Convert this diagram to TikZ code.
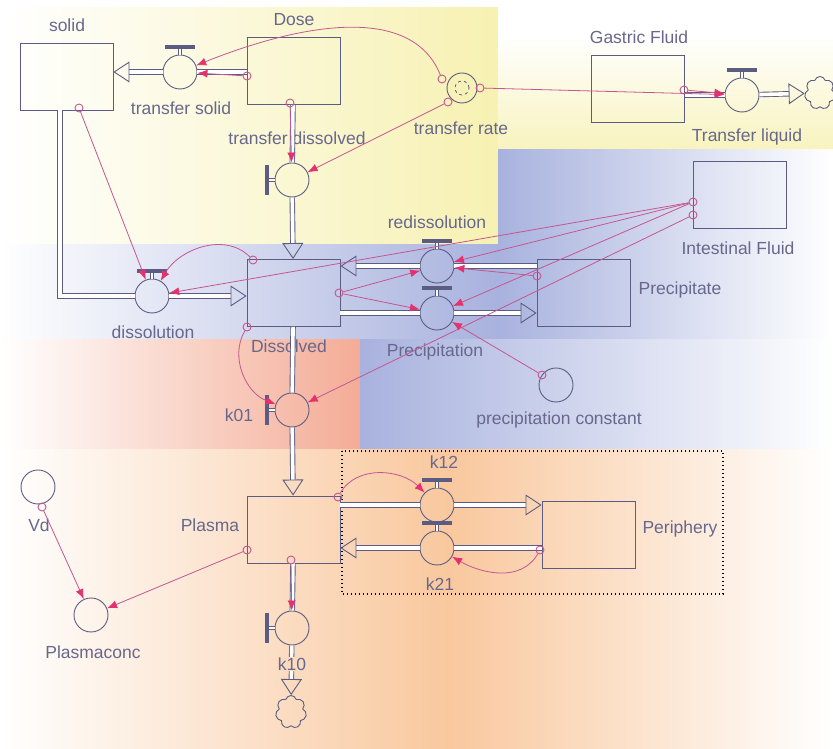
\documentclass[tikz,border=0pt]{standalone}
\usepackage{fontspec}
\setmainfont{Liberation Sans}
\usepackage{tikz}
\usetikzlibrary{arrows,arrows.meta,shapes.symbols}
\definecolor{boxcol}{RGB}{92,92,130}
\definecolor{linkcol}{RGB}{196,86,146}
\definecolor{tipcol}{RGB}{228,50,110}
\definecolor{txtcol}{RGB}{104,104,140}
\definecolor{ylw}{RGB}{247,241,178}
\definecolor{blu}{RGB}{168,178,222}
\definecolor{slm}{RGB}{244,172,150}
\definecolor{org}{RGB}{249,200,158}

\begin{document}
\begin{tikzpicture}[x=1pt,y=1pt]
\tikzset{stock/.style = {shape=rectangle,draw=boxcol,line width=0.9pt,minimum width=93pt,minimum height=67pt}}
\tikzset{valve/.style = {shape=circle,draw=boxcol,line width=0.9pt,minimum size=34pt,inner sep=0pt}}
\tikzset{conv/.style = {shape=circle,draw=boxcol,line width=0.9pt,minimum size=34pt,inner sep=0pt}}
\tikzset{dot/.style = {shape=circle,draw=linkcol,line width=0.9pt,minimum size=8pt,inner sep=0pt}}
\tikzset{lbl/.style = {text=txtcol,font=\fontsize{17.5}{20}\selectfont,inner sep=1pt}}
\tikzset{pipe/.style = {draw=boxcol,line width=0.9pt,double=white,double distance=3.6pt}}
\tikzset{flow/.style = {pipe,-{Triangle[open,width=21pt,length=16pt,line width=0.9pt]}}}
\tikzset{stem/.style = {draw=boxcol,line width=0.6pt,double=white,double distance=2pt}}
\tikzset{edge/.style = {->,> = {Latex[length=10pt,width=8pt,color=tipcol]},draw=linkcol,line width=0.8pt}}
\tikzset{cloudy/.style = {cloud,cloud puffs=7,draw=boxcol,line width=0.9pt,minimum width=31pt,minimum height=33pt,aspect=1}}
\tikzset{frame/.style = {draw=black,line width=1.4pt,dash pattern=on 1.4pt off 2.6pt}}
\useasboundingbox (0,0) rectangle (833,749);
% background
\shade[left color=white,right color=ylw] (0,504) rectangle (498,741);
\shade[top color=white,bottom color=ylw!85] (498,599) rectangle (833,714);
\shade[left color=blu,right color=white] (498,504) rectangle (833,599);
\shade[left color=white,right color=blu] (0,409) rectangle (498,504);
\shade[left color=blu,right color=white] (498,409) rectangle (833,504);
\shade[left color=white,right color=slm] (0,299) rectangle (360,409);
\shade[left color=blu,right color=white] (360,299) rectangle (833,409);
\shade[left color=white,right color=org] (0,0) rectangle (450,299);
\shade[left color=org,right color=white] (450,0) rectangle (833,299);
\draw[frame] (342,298) rectangle (723,155);
% labels
\node[lbl] (lsolid) at (67,724) {solid};
\node[lbl] (lDose) at (294,729) {Dose};
\node[lbl] (lGF) at (639,712) {Gastric Fluid};
\node[lbl] (lTS) at (181,641) {transfer solid};
\node[lbl] (lTD) at (297,611) {transfer dissolved};
\node[lbl] (ltr) at (461,621) {transfer rate};
\node[lbl] (lTL) at (747,612) {Transfer liquid};
\node[lbl] (lRediss) at (437,527) {redissolution};
\node[lbl] (lIF) at (738,501) {Intestinal Fluid};
\node[lbl] (lPrecip) at (680,459) {Precipitate};
\node[lbl] (lDiss) at (153,417) {dissolution};
\node[lbl] (lDissolved) at (289,403) {Dissolved};
\node[lbl] (lPrec) at (435,397) {Precipitation};
\node[lbl] (lpc) at (559,329) {precipitation constant};
\node[lbl] (lk01) at (239,334) {k01};
\node[lbl] (lk12) at (444,287) {k12};
\node[lbl] (lk21) at (440,165) {k21};
\node[lbl] (lVd) at (39,224) {Vd};
\node[lbl] (lPlasma) at (210,224) {Plasma};
\node[lbl] (lPconc) at (93,97) {Plasmaconc};
\node[lbl] (lPer) at (680,220) {Periphery};
% stocks
\node[stock] (solid) at (66.5,672.5) {};
\node[stock] (Dose) at (293.5,678) {};
\node[stock] (GF) at (638,660.5) {};
\node[stock] (IF) at (740,554) {};
\node[stock] (Precip) at (583.5,456) {};
\node[stock] (Dissolved) at (293.5,456) {};
\node[stock] (Plasma) at (293.5,219.5) {};
\node[stock] (Periphery) at (588.5,214.5) {};
% valves
\node[valve] (vTS) at (180,677) {};
\node[valve] (vTD) at (292,569) {};
\node[valve] (vTL) at (742,654) {};
\node[valve] (vDiss) at (152,453) {};
\node[valve] (vRediss) at (437,483) {};
\node[valve] (vPrec) at (437,436) {};
\node[valve] (vk01) at (292,339) {};
\node[valve] (vk12) at (437,244) {};
\node[valve] (vk21) at (437,201) {};
\node[valve] (vk10) at (292,121) {};
\foreach \v in {vTS,vTL,vDiss,vRediss,vPrec,vk12,vk21}
{
\draw[stem] (\v.north) -- ++(0,6);
\fill[boxcol] (\v.north) ++(-15,6) rectangle ++(30,3.5);
}
\foreach \v in {vTD,vk01,vk10}
{
\draw[stem] (\v.west) -- ++(-6,0);
\fill[boxcol] (\v.west) ++(-6,-15) rectangle ++(-3.5,30);
}
% converters and clouds
\node[conv,minimum size=30pt] (tr) at (462,661) {};
\draw[boxcol,dashed,line width=0.8pt] (tr.center) circle (7pt);
\node[conv] (pc) at (556,364) {};
\node[conv] (Vd) at (38,262) {};
\node[conv] (Pconc) at (91,134) {};
\node[cloudy] (cloud1) at (820,656) {};
\node[cloudy] (cloud2) at (291,37) {};
\coordinate (sbot) at (60,639);
% flows
\draw[pipe] (Dose.west |- vTS) -- (vTS);
\draw[flow] (vTS) -- (solid.east |- vTS);
\draw[pipe] (Dose) -- (vTD);
\draw[flow] (vTD) -- (Dissolved);
\draw[pipe] (GF.east |- vTL) -- (vTL);
\draw[flow] (vTL) -- (cloud1);
\draw[pipe] (sbot) |- (vDiss);
\draw[flow] (vDiss) -- (Dissolved.west |- vDiss);
\draw[pipe] (Precip.west |- vRediss) -- (vRediss);
\draw[flow] (vRediss) -- (Dissolved.east |- vRediss);
\draw[pipe] (Dissolved.east |- vPrec) -- (vPrec);
\draw[flow] (vPrec) -- (Precip.west |- vPrec);
\draw[pipe] (Dissolved) -- (vk01);
\draw[flow] (vk01) -- (Plasma);
\draw[pipe] (Plasma.east |- vk12) -- (vk12);
\draw[flow] (vk12) -- (Periphery.west |- vk12);
\draw[pipe] (Periphery.west |- vk21) -- (vk21);
\draw[flow] (vk21) -- (Plasma.east |- vk21);
\draw[pipe] (Plasma) -- (vk10);
\draw[flow] (vk10) -- (cloud2);
\node[lbl,fill=org!66] (lk10) at (292,85) {k10};
% connector origins
\node[dot] (oTrA) at (442,670) {};
\node[dot] (oTrB) at (448,647) {};
\node[dot] (oTrC) at (480,661) {};
\node[dot] (oGF) at (684,659) {};
\node[dot] (oDoseL) at (247,673) {};
\node[dot] (oDoseB) at (290,646) {};
\node[dot] (oSolid) at (79,641) {};
\node[dot] (oDissT) at (253,489) {};
\node[dot] (oDissR) at (339,456) {};
\node[dot] (oDissB) at (247,422) {};
\node[dot] (oIFa) at (693,547) {};
\node[dot] (oIFb) at (693,534) {};
\node[dot] (oPrecip) at (537,473) {};
\node[dot] (oPC) at (542,374) {};
\node[dot] (oPlT) at (338,252) {};
\node[dot] (oPlB) at (291,189) {};
\node[dot] (oPlL) at (247,199) {};
\node[dot] (oPer) at (540,199) {};
\node[dot] (oVd) at (42,242) {};
%connectors
\draw[edge] (oTrA) to[out=112,in=22,looseness=0.9] (vTS);
\draw[edge] (oTrB) -- (vTD);
\draw[edge] (oTrC) -- (vTL);
\draw[edge] (oGF) -- (vTL);
\draw[edge] (oDoseL) -- (vTS);
\draw[edge] (oDoseB) -- (vTD);
\draw[edge] (oSolid) -- (vDiss);
\draw[edge] (oDissT) to[out=135,in=60] (vDiss);
\draw[edge] (oIFa) -- (vDiss);
\draw[edge] (oIFa) -- (vRediss);
\draw[edge] (oIFa) -- (vPrec);
\draw[edge] (oIFb) -- (vk01);
\draw[edge] (oDissR) -- (vRediss);
\draw[edge] (oDissR) -- (vPrec);
\draw[edge] (oPrecip) -- (vRediss);
\draw[edge] (oPC) -- (vPrec);
\draw[edge] (oDissB) to[out=240,in=160] (vk01);
\draw[edge] (oPlT) to[out=60,in=135] (vk12);
\draw[edge] (oPer) to[out=-120,in=-30] (vk21);
\draw[edge] (oPlB) -- (vk10);
\draw[edge] (oVd) -- (Pconc);
\draw[edge] (oPlL) -- (Pconc);
\end{tikzpicture}
\end{document}
